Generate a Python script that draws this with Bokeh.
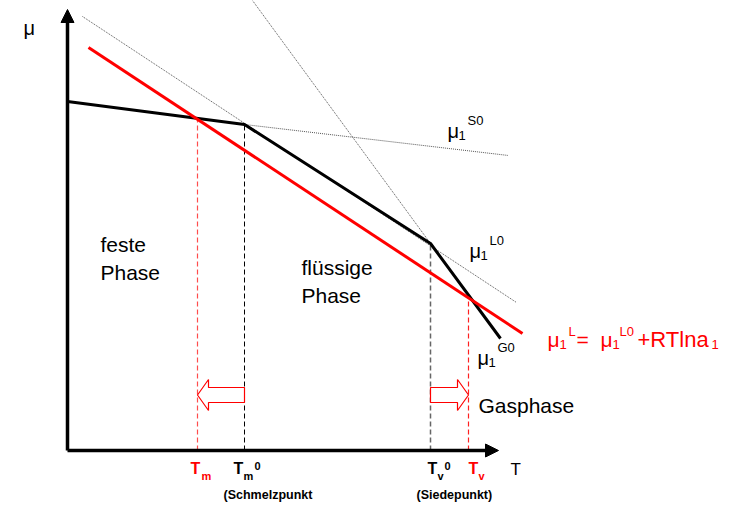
import numpy as np
from bokeh.plotting import figure
from bokeh.models import Range1d, Arrow, NormalHead
from bokeh.core.properties import value
from bokeh.embed import file_html
from bokeh.resources import INLINE

# ---- schematic data (chart units: origin at axis intersection) ----
black_T = [0, 177, 363, 433]          # actual chemical potential (min of phases)
black_mu = [349, 326, 207, 112]
red_T = [21, 455]                     # mu1^L = mu1^L0 + RT ln a1
red_mu = [403, 117]
S0_T = [177, 441]                     # solid reference (dotted extension)
S0_mu = [326, 295]
L0_T = [15, 449]                      # liquid reference
L0_mu = [434, 148]
G0_T = [185, 363]                     # gas reference
G0_mu = [450, 207]
T_marks = {"Tm": 130, "Tm0": 177, "Tv0": 363, "Tv": 401}
arrow_mu = 55.5

FONT = value("Liberation Sans")
OX, OY = 67, 450   # picture pixel of origin
W, H = 742, 507
TEXT_DY = -8       # baseline correction


def X(px):
    return px - OX


def Y(py):
    return OY - py


p = figure(width=W, height=H, output_backend="svg", toolbar_location=None,
           x_axis_type=None, y_axis_type=None,
           x_range=Range1d(0 - OX, W - OX), y_range=Range1d(OY - H, OY - 0),
           min_border=0, outline_line_color=None)
p.grid.visible = False
p.background_fill_color = "white"
p.border_fill_color = "white"

# dotted reference lines
p.line(S0_T, S0_mu, line_color="#555555", line_width=1, line_dash="1 1")
p.line(L0_T, L0_mu, line_color="#555555", line_width=1, line_dash="1 1")
p.line(G0_T, G0_mu, line_color="#555555", line_width=1, line_dash="1 1")

# vertical dashed lines
def vline(T, color, width=1.0):
    top = float(np.interp(T, black_T, black_mu))
    p.line([T, T], [0, top], line_color=color, line_width=width, line_dash="5 3")

vline(T_marks["Tm"], "#ff4d4d", 1.2)
vline(T_marks["Tm0"], "black", 1.0)
vline(T_marks["Tv0"], "#666666", 1.5)
vline(T_marks["Tv"], "#ff2020", 1.2)

# hollow red arrows
hl, hh, sh = 11, 15.5, 7.5
def hollow_arrow(tip, tail):
    d = 1 if tail > tip else -1
    b = tip + d * hl
    xs = [tip, b, b, tail, tail, b, b]
    ys = [arrow_mu, arrow_mu + hh, arrow_mu + sh, arrow_mu + sh,
          arrow_mu - sh, arrow_mu - sh, arrow_mu - hh]
    p.patch(xs, ys, fill_color="white", line_color="#ff0000", line_width=1.2)

hollow_arrow(T_marks["Tm"], T_marks["Tm0"])
hollow_arrow(T_marks["Tv"], T_marks["Tv0"])

# main curves
p.line(black_T, black_mu, line_color="black", line_width=3)
p.line(red_T, red_mu, line_color="#ff0000", line_width=3)

# axes with arrowheads
p.add_layout(Arrow(end=NormalHead(size=13, fill_color="black", line_color="black"),
                   x_start=0, y_start=0, x_end=0, y_end=Y(9),
                   line_color="black", line_width=3.5))
p.add_layout(Arrow(end=NormalHead(size=13, fill_color="black", line_color="black"),
                   x_start=0, y_start=0, x_end=X(498), y_end=0,
                   line_color="black", line_width=3.5))


def lab(px, py, s, size, color="black", bold=False):
    p.text(x=[X(px)], y=[Y(py + TEXT_DY)], text=[s], text_font=FONT,
           text_font_size=value(f"{size}px"), text_color=color,
           text_font_style="bold" if bold else "normal",
           text_baseline="alphabetic", text_align="left")


# axis labels
lab(23, 35, "μ", 20)
lab(510, 477, "T", 17)

# phase labels
lab(100, 252, "feste", 21)
lab(100, 280, "Phase", 21)
lab(301, 275, "flüssige", 21)
lab(301, 303, "Phase", 21)
lab(478, 413, "Gasphase", 21)

# potential labels
def mu_label(px, py, sup, color="black"):
    lab(px, py, "μ", 20, color)
    lab(px + 11, py + 5, "1", 13, color)
    lab(px + 20, py - 10, sup, 13, color)

mu_label(447, 138, "S0")
mu_label(469, 258, "L0")
mu_label(477, 365, "G0")

# red formula
R = "#ff0000"
lab(547, 347, "μ", 21, R)
lab(559, 352, "1", 13, R)
lab(568, 339, "L", 13, R)
lab(576, 347, "=", 21, R)
lab(600, 347, "μ", 21, R)
lab(612, 352, "1", 13, R)
lab(619, 339, "L0", 13, R)
lab(637, 347, "+RTlna", 22, R)
lab(711, 352, "1", 13, R)

# T tick labels
lab(190, 476, "T", 16, R, True)
lab(201, 483, "m", 11, R, True)
lab(233, 476, "T", 16, "black", True)
lab(243, 483, "m", 11, "black", True)
lab(254, 473, "0", 11, "black", True)
lab(427, 476, "T", 16, "black", True)
lab(437, 483, "v", 11, "black", True)
lab(444, 473, "0", 11, "black", True)
lab(468, 476, "T", 16, R, True)
lab(478, 483, "v", 11, R, True)
lab(223, 502, "(Schmelzpunkt", 12.5, "black", True)
lab(416, 502, "(Siedepunkt)", 12.5, "black", True)

open("out.html", "w").write(file_html(p, INLINE))
